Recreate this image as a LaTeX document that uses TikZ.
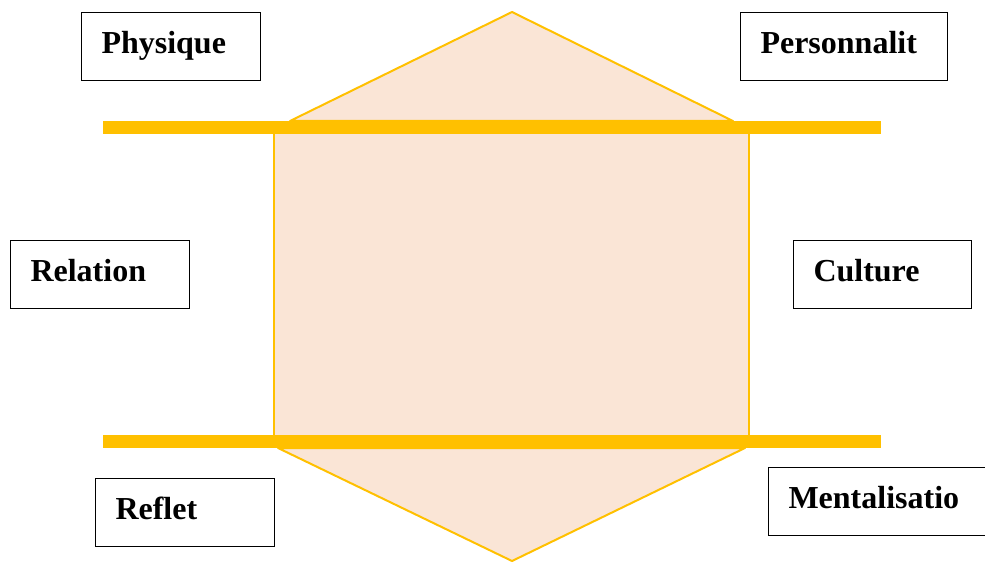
\documentclass[tikz,border=0pt]{standalone}
\usepackage{fontspec}
\setmainfont{Liberation Serif}
\usepackage{tikz}

\definecolor{gold}{RGB}{255,192,0}
\definecolor{peach}{RGB}{250,229,214}

\begin{document}
\begin{tikzpicture}[x=0.75pt, y=-0.75pt,
	tag/.style={draw, line width=0.75pt, anchor=north west, inner xsep=15pt, inner ysep=0pt, minimum height=51pt, text width=#1, text height=18pt, text depth=7.5pt, align=left, font=\bfseries\fontsize{24}{28}\selectfont},
	bar/.style={gold, line width=9.75pt},
	hull/.style={fill=peach, draw=gold, line width=1.5pt, line join=round}]
	\useasboundingbox (0,0) rectangle (985,563);
	\fill[peach] (274,128) rectangle (749,441);
	\draw[hull] (290,121) -- (512,12) -- (733,121) -- cycle;
	\draw[hull] (278,448) -- (512,561) -- (745,448) -- cycle;
	\draw[gold, line width=1.5pt] (274,128) -- (274,441) (749,128) -- (749,441);
	\draw[bar] (103,128) -- (881,128);
	\draw[bar] (103,441) -- (881,441);
	\node[tag=104.25pt] (physique) at (81,12) {Physique};
	\node[tag=125.25pt] (personnalite) at (740,12) {Personnalit};
	\node[tag=104.25pt] (relation) at (10,240) {Relation};
	\node[tag=103.5pt] (culture) at (793,240) {Culture};
	\node[tag=104.25pt] (reflet) at (95,478) {Reflet};
	\node[tag=135pt] (mentalisation) at (768,467) {Mentalisatio};
\end{tikzpicture}
\end{document}
